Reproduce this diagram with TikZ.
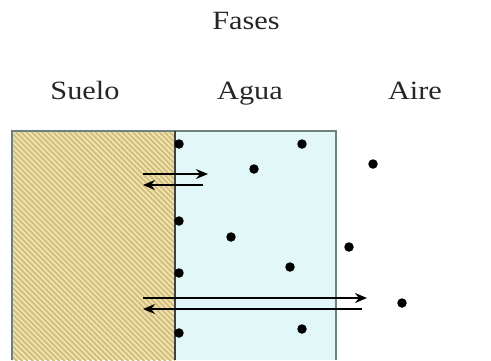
\documentclass[tikz,border=0pt]{standalone}
\usepackage{fontspec}
\setmainfont{Liberation Serif}[FakeStretch=1.15]
\usetikzlibrary{patterns.meta, arrows.meta}
\definecolor{soilfill}{RGB}{242,228,176}
\definecolor{soilline}{RGB}{208,188,124}
\definecolor{waterfill}{RGB}{226,248,248}
\definecolor{wall}{RGB}{110,128,128}
\tikzset{
	phase label/.style={font=\fontsize{15}{18}\selectfont, text=black!85, anchor=base},
	particle/.style={
		circle,
		fill=black,
		inner sep=0pt,
		minimum size=0.19cm
	},
	flux/.style={line width=0.8pt, -{Stealth[length=2.4mm, width=2mm]}}
}
% one particle: name, position in px
\newcommand{\particle}[3]{%
	\node[particle] (#1) at (#2,#3) {}
}

\begin{document}
\begin{tikzpicture}[x=0.02cm, y=-0.02cm]
	\useasboundingbox (0,0) rectangle (491,360);

	% phases
	\fill[soilfill] (12,131) rectangle (175,360);
	\fill[pattern={Lines[angle=-45, distance=0.075cm, line width=0.035cm]}, pattern color=soilline]
		(12,131) rectangle (175,360);
	\fill[waterfill] (175,131) rectangle (336,360);
	\draw[wall, line width=0.8pt] (12,360) -- (12,131) -- (336,131) -- (336,360);
	\draw[black!75, line width=0.8pt] (175,131) -- (175,360);

	% labels
	\node[phase label] (title) at (246,29) {Fases};
	\node[phase label] (suelo) at (85,99) {Suelo};
	\node[phase label] (agua) at (250,99) {Agua};
	\node[phase label] (aire) at (415,99) {Aire};

	% adsorbed on the soil surface
	\particle{p1}{179}{144};
	\particle{p2}{179}{221};
	\particle{p3}{179}{273};
	\particle{p4}{179}{333};
	% dissolved
	\particle{p5}{302}{144};
	\particle{p6}{254}{169};
	\particle{p7}{231}{237};
	\particle{p8}{290}{267};
	\particle{p9}{302}{329};
	% gas phase
	\particle{p10}{373}{164};
	\particle{p11}{349}{247};
	\particle{p12}{402}{303};

	% exchange soil <-> water
	\coordinate (a1) at (143,174);
	\coordinate (b1) at (208,174);
	\coordinate (a2) at (203,185);
	\coordinate (b2) at (143,185);
	\draw[flux] (a1) -- (b1);
	\draw[flux] (a2) -- (b2);

	% exchange soil <-> air
	\coordinate (a3) at (143,298);
	\coordinate (b3) at (367,298);
	\coordinate (a4) at (362,309);
	\coordinate (b4) at (143,309);
	\draw[flux] (a3) -- (b3);
	\draw[flux] (a4) -- (b4);
\end{tikzpicture}
\end{document}
